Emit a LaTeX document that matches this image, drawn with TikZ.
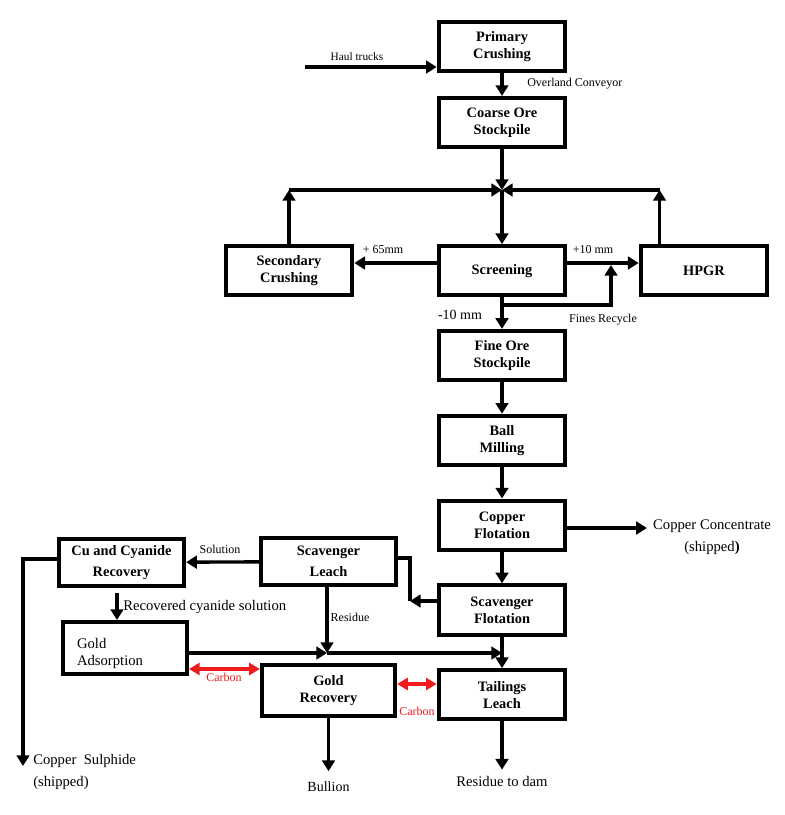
\documentclass[tikz,border=0pt]{standalone}
\usepackage{fontspec}
\setmainfont{Liberation Serif}
\usetikzlibrary{arrows.meta,positioning,calc}
\definecolor{flowInk}{HTML}{000000}
\definecolor{carbonRed}{HTML}{EE1C1C}

\begin{document}
\begin{tikzpicture}[
  x=0.75pt,y=-0.75pt,
  node distance=8.3mm,
  unit/.style={draw=flowInk,line width=3pt,align=center,
    font=\fontsize{10.8}{12.5}\selectfont\bfseries,
    minimum width=95pt,minimum height=13mm,inner sep=2pt},
  unitw/.style={unit,font=\fontsize{10.8}{15.5}\selectfont\bfseries},
  unitp/.style={unit,font=\fontsize{11}{12.75}\selectfont,align=left,
    text width=72pt,text height=16pt},
  lbl/.style={font=\fontsize{9}{10.8}\selectfont,inner sep=0pt},
  lblb/.style={font=\fontsize{11}{16.5}\selectfont,inner sep=0pt},
  ar/.style={-{Triangle[length=8pt,width=9.5pt]},line width=2.5pt,draw=flowInk},
  ln/.style={line width=2.5pt,draw=flowInk},
  arc/.style={{Triangle[length=8pt,width=9pt]}-{Triangle[length=8pt,width=9pt]},
    line width=2.4pt,draw=carbonRed}
]
\useasboundingbox (0,0) rectangle (785,815);

% main column
\node[unit] (pc) at (502,46.5) {Primary\\Crushing};
\node[unit,below=6mm of pc] (cos) {Coarse Ore\\Stockpile};
\node[unit,below=25mm of cos] (scr) {Screening};
\node[unit,below=of scr] (fos) {Fine Ore\\Stockpile};
\node[unit,below=of fos] (bm) {Ball\\Milling};
\node[unit,below=of bm] (cf) {Copper\\Flotation};
\node[unit,below=of cf] (sf) {Scavenger\\Flotation};
\node[unit,below=of sf] (tl) {Tailings\\Leach};
\node[unit,left=21.7mm of scr] (sc) {Secondary\\Crushing};
\node[unit,right=18.8mm of scr] (hpgr) {HPGR};

% leach circuit
\node[unitw,minimum width=101pt,minimum height=35pt] (sl) at (328.5,561.5) {Scavenger\\Leach};
\node[unitw,minimum width=94pt,minimum height=35pt] (cu) at (121.5,562.5) {Cu and Cyanide\\Recovery};
\node[unitp,minimum width=93pt,minimum height=39pt] (ga) at (125,648) {Gold\\Adsorption};
\node[unit,minimum width=100pt,minimum height=38pt] (gr) at (328.5,690.5) {Gold\\Recovery};

% outlets
\node[lblb,align=center] (cc) at (712,537) {Copper Concentrate\\(shipped\textbf{)}};
\node[lblb,font=\fontsize{10.5}{12}\selectfont] (bul) at (328.5,787) {Bullion};
\node[lblb] (rtd) at (502,781) {Residue to dam};
\node[lblb,align=left,anchor=north west] (csl) at (33,754) {Copper\ \ Sulphide\\(shipped)};

% junctions
\coordinate (jn) at (pc.south |- 0,190);
\coordinate (screenY) at (0,263);
\coordinate (frk) at (scr.south |- 0,305);
\coordinate (frt) at (611,265);
\coordinate (sfk) at (410,601);
\coordinate (rcs) at (117,593);
\coordinate (jr) at (327,653);
\coordinate (cb1) at (0,669);
\coordinate (cb2) at (0,684);
\coordinate (ccY) at (0,528);
\coordinate (csend) at (23,766);
\coordinate (haul) at (305,67);
\coordinate (hup) at ($(hpgr.north west)!0.16!(hpgr.north east)$);

% crushing circuit
\draw[ar] (haul) -- (haul -| pc.west);
\node[lbl,font=\fontsize{8.5}{10}\selectfont] (hlt) at (357,57) {Haul trucks};
\draw[ar] (pc) -- (cos);
\node[lbl,anchor=west] (olc) at (527,84) {Overland Conveyor};
\draw[ar] (cos) -- (jn);
\draw[ar] (jn) -- (scr);
\draw[ar] (sc) -- (sc |- jn);
\draw[ar] (sc |- jn) -- (jn);
\draw[ar] (hup) -- (hup |- jn);
\draw[ar] (hup |- jn) -- (jn);
\draw[ar] (scr.west |- screenY) -- (sc.east |- screenY);
\node[lbl] (p65) at (383,250) {+ 65mm};
\draw[ar] (scr.east |- screenY) -- (hpgr.west |- screenY);
\node[lbl] (p10) at (593,250) {+10 mm};
\draw[ar] (frk) -| (frt);
\node[lbl] (fnr) at (603,320) {Fines Recycle};
\draw[ar] (scr) -- (fos);
\node[lbl,font=\fontsize{10.5}{12}\selectfont] (m10) at (460,315) {-10 mm};

% milling and flotation
\draw[ar] (fos) -- (bm);
\draw[ar] (bm) -- (cf);
\draw[ar] (cf) -- (sf);
\draw[ar,shorten >=4.5pt] (cf.east |- ccY) -- (cc.west |- ccY);
\draw[ar] (sf.west |- sfk) -- (sfk);
\draw[ln] (sfk) |- (sl.east |- 0,558);

% leach and recovery
\draw[ar] (sl) -- (cu);
\node[lbl] (sol) at (220,549) {Solution};
\draw[ar] (rcs) -- (rcs |- ga.north);
\node[lblb,anchor=west] (rcl) at (123,607) {Recovered cyanide solution};
\draw[ar] (sl.south -| jr) -- (jr);
\node[lbl] (res) at (350,617) {Residue};
\draw[ar] (ga.east |- jr) -- (jr);
\draw[ar] (jr) -- (jr -| tl.north);
\draw[ar] (sf) -- (tl);
\draw[arc] (ga.east |- cb1) -- (gr.west |- cb1);
\node[lbl,text=carbonRed] (cb1l) at (224,677) {Carbon};
\draw[arc] (gr.east |- cb2) -- (tl.west |- cb2);
\node[lbl,text=carbonRed] (cb2l) at (417,711) {Carbon};
\draw[ar,shorten >=8pt] (gr) -- (bul);
\draw[ar,shorten >=4.5pt] (tl) -- (rtd);
\draw[ar] (cu.west |- 0,559) -| (csend);
\end{tikzpicture}
\end{document}
